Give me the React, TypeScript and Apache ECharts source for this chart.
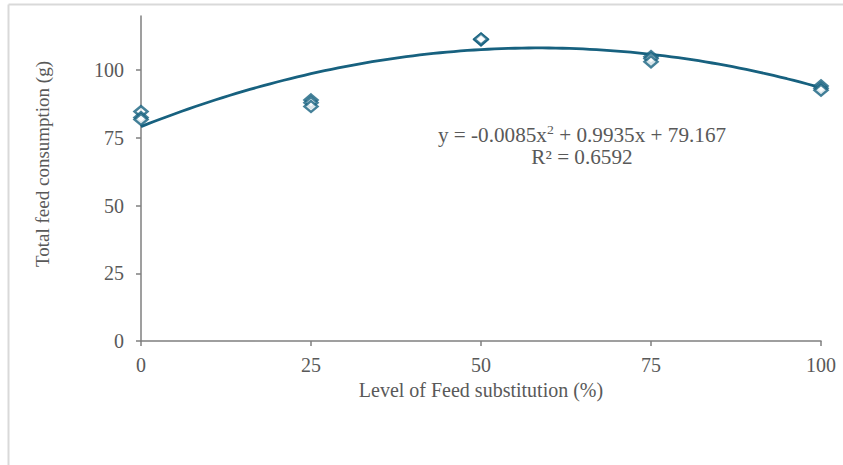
import React, { useEffect, useRef } from "react";
import * as echarts from "echarts";

// Substitution levels (%) and the measured total feed consumption (g)
const levels = [0, 0, 0, 25, 25, 25, 50, 50, 50, 75, 75, 75, 100, 100, 100];
const consumption = [84.7, 82.5, 81.8, 89.0, 88.0, 86.6, 111.4, 111.2, 111.5, 105.0, 104.3, 103.1, 94.2, 93.3, 92.6];

// Quadratic trend: y = a*x^2 + b*x + c
const trendCoef = [-0.0085, 0.9935, 79.167];
const trendLabel = "y = -0.0085x";
const trendLabelTail = " + 0.9935x + 79.167";
const r2Label = "R² = 0.6592";

const xTicks = [0, 25, 50, 75, 100];
const yTicks = [0, 25, 50, 75, 100];

const TEAL = "#17617f";
const GREY_TEXT = "#595959";
const AXIS = "#7f7f7f";
const FONT = "'Liberation Serif', 'Times New Roman', serif";
const FS = 20;

export default function App() {
  const ref = useRef<HTMLDivElement>(null);

  useEffect(() => {
    if (!ref.current) return;
    const chart = echarts.init(ref.current, undefined, { renderer: "svg" });

    const points = levels.map((x, i) => [x, consumption[i]]);
    const trend: number[][] = [];
    for (let x = 0; x <= 100; x += 1) {
      trend.push([x, trendCoef[0] * x * x + trendCoef[1] * x + trendCoef[2]]);
    }

    chart.setOption({
      animation: false,
      backgroundColor: "#ffffff",
      grid: { left: 141, right: 22, top: 16, bottom: 124, containLabel: false },
      xAxis: {
        type: "value",
        min: 0,
        max: 100,
        interval: 25,
        name: "Level of Feed substitution (%)",
        nameLocation: "middle",
        nameGap: 38,
        nameTextStyle: { fontFamily: FONT, fontSize: FS, color: GREY_TEXT },
        axisLine: { show: true, lineStyle: { color: AXIS, width: 1.5 } },
        axisTick: { show: true, length: 5, lineStyle: { color: AXIS, width: 1.5 } },
        axisLabel: { fontFamily: FONT, fontSize: FS, color: GREY_TEXT, margin: 14, customValues: xTicks },
        splitLine: { show: false },
      },
      yAxis: {
        type: "value",
        min: 0,
        max: 120,
        interval: 25,
        axisLine: { show: true, lineStyle: { color: AXIS, width: 1.5 } },
        axisTick: { show: true, length: 5, lineStyle: { color: AXIS, width: 1.5 }, customValues: yTicks },
        axisLabel: { fontFamily: FONT, fontSize: FS, color: GREY_TEXT, margin: 17, customValues: yTicks },
        splitLine: { show: false },
      },
      series: [
        {
          type: "line",
          data: trend,
          showSymbol: false,
          symbol: "none",
          smooth: false,
          lineStyle: { color: TEAL, width: 2.8 },
          z: 2,
        },
        {
          type: "scatter",
          data: points,
          symbol: "diamond",
          symbolSize: [13, 11],
          itemStyle: { color: "#ffffff", borderColor: TEAL, borderWidth: 2.5 },
          z: 3,
        },
      ],
      graphic: [
        {
          type: "line",
          shape: { x1: 8.5, y1: 4.5, x2: 843, y2: 4.5 },
          style: { stroke: "#d9d9d9", lineWidth: 2 },
          silent: true,
        },
        {
          type: "line",
          shape: { x1: 8.5, y1: 4.5, x2: 8.5, y2: 465 },
          style: { stroke: "#d9d9d9", lineWidth: 2 },
          silent: true,
        },
        {
          type: "text",
          x: 42,
          y: 164,
          rotation: Math.PI / 2,
          style: {
            text: "Total feed consumption (g)",
            font: `19px ${FONT}`,
            fill: GREY_TEXT,
            textAlign: "center",
            textVerticalAlign: "middle",
          },
        },
        {
          type: "text",
          x: 582,
          y: 135,
          scaleX: 1.06,
          style: {
            text: `{m|${trendLabel}}{s|2}{m|${trendLabelTail}}`,
            textAlign: "center",
            textVerticalAlign: "middle",
            fill: GREY_TEXT,
            rich: {
              m: { fontFamily: FONT, fontSize: FS, fill: GREY_TEXT, color: GREY_TEXT },
              s: { fontFamily: FONT, fontSize: 13, fill: GREY_TEXT, color: GREY_TEXT, padding: [0, 0, 10, 0] },
            },
          },
        },
        {
          type: "text",
          x: 582,
          y: 157,
          scaleX: 1.06,
          style: {
            text: r2Label,
            font: `${FS}px ${FONT}`,
            fill: GREY_TEXT,
            textAlign: "center",
            textVerticalAlign: "middle",
          },
        },
      ],
    });

    return () => chart.dispose();
  }, []);

  return (
    <div
      ref={ref}
      style={{ position: "absolute", left: 0, top: 0, width: 843, height: 465 }}
    />
  );
}
